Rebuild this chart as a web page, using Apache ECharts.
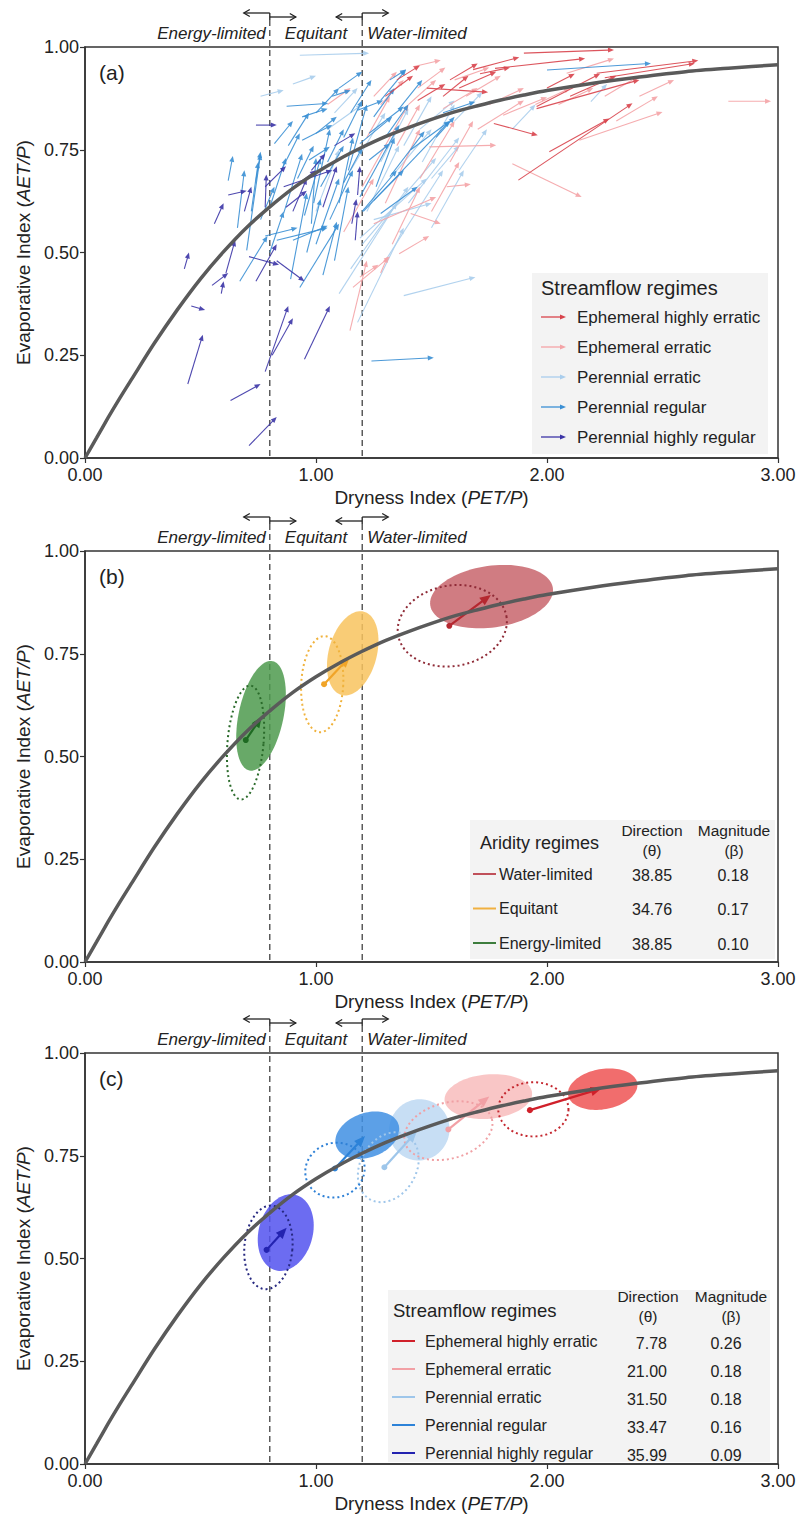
<!DOCTYPE html>
<html><head><meta charset="utf-8">
<script src="https://cdn.jsdelivr.net/npm/echarts@6/dist/echarts.min.js"></script>
<style>html,body{margin:0;padding:0;background:#fff}#c{width:799px;height:1519px}</style>
</head><body><div id="c"></div>
<script>
const FONT = '"Liberation Sans", Arial, sans-serif';

// ---------- data ----------
const xTickLabels = ['0.00', '1.00', '2.00', '3.00'];
const yTickLabels = ['0.00', '0.25', '0.50', '0.75', '1.00'];
const regimeBounds = [0.8, 1.2];
const headerLabels = ['Energy-limited', 'Equitant', 'Water-limited'];
const panelLabels = ['(a)', '(b)', '(c)'];

// Budyko curve (dryness index, evaporative index)
const curveX = [0, 0.05, 0.1, 0.15, 0.2, 0.3, 0.4, 0.5, 0.6, 0.7, 0.8, 0.9, 1.0, 1.1, 1.2, 1.3, 1.4, 1.5, 1.6, 1.7, 1.8, 1.9, 2.0, 2.2, 2.4, 2.6, 2.8, 3.0];
const curveY = [0, 0.049, 0.098, 0.145, 0.190, 0.279, 0.361, 0.436, 0.502, 0.561, 0.611, 0.656, 0.694, 0.727, 0.756, 0.782, 0.804, 0.824, 0.842, 0.857, 0.871, 0.883, 0.894, 0.912, 0.927, 0.940, 0.949, 0.957];

const streamRegimes = ['Ephemeral highly erratic', 'Ephemeral erratic', 'Perennial erratic', 'Perennial regular', 'Perennial highly regular'];
const streamDirection = ['7.78', '21.00', '31.50', '33.47', '35.99'];
const streamMagnitude = ['0.26', '0.18', '0.18', '0.16', '0.09'];
const aridityRegimes = ['Water-limited', 'Equitant', 'Energy-limited'];
const aridityDirection = ['38.85', '34.76', '38.85'];
const aridityMagnitude = ['0.18', '0.17', '0.10'];

// Panel (a): catchment shifts [start PET/P, start AET/P, end PET/P, end AET/P]
const shiftsEHE = [
  [1.90,0.985,2.29,0.993],[1.68,0.945,1.88,0.975],[1.775,0.948,2.165,0.972],[2.215,0.936,2.655,0.967],
  [2.25,0.925,2.64,0.96],[1.955,0.85,2.40,0.92],[1.955,0.855,2.23,0.935],[1.77,0.814,1.96,0.785],
  [2.01,0.745,2.27,0.826],[1.876,0.676,2.37,0.863],[1.48,0.90,1.745,0.89],[1.71,0.935,1.84,0.95],
  [1.35,0.92,1.45,0.955],[1.55,0.88,1.66,0.93],[1.62,0.90,1.78,0.94],[2.00,0.90,2.12,0.935],
  [1.30,0.88,1.42,0.93],[1.58,0.92,1.70,0.96],[1.44,0.87,1.56,0.91],[2.10,0.88,2.30,0.93]
];
const shiftsEE = [
  [2.785,0.868,2.97,0.868],[1.85,0.716,2.15,0.635],[2.14,0.773,2.50,0.842],[1.566,0.66,1.67,0.666],
  [1.36,0.497,1.49,0.54],[1.28,0.45,1.31,0.49],[1.41,0.595,1.54,0.57],[1.49,0.757,1.78,0.761],
  [1.81,0.834,2.0,0.878],[2.085,0.936,2.29,0.972],[1.42,0.952,1.54,0.968],[1.147,0.31,1.22,0.48],
  [1.16,0.415,1.32,0.49],[1.25,0.57,1.52,0.635],[1.19,0.44,1.27,0.47],[1.35,0.76,1.45,0.86],
  [1.40,0.86,1.52,0.92],[1.55,0.85,1.70,0.90],[1.65,0.88,1.80,0.93],[1.95,0.86,2.10,0.90],
  [2.25,0.88,2.40,0.93],[2.30,0.82,2.48,0.88],[1.70,0.80,1.90,0.87],[1.30,0.62,1.45,0.80],
  [1.20,0.66,1.40,0.86],[1.05,0.86,1.15,0.90],[1.45,0.68,1.60,0.82],[1.60,0.92,1.75,0.95],
  [1.22,0.78,1.32,0.88],[1.28,0.86,1.38,0.92],[1.33,0.52,1.45,0.66],[1.50,0.60,1.62,0.72],
  [1.58,0.72,1.68,0.82],[1.25,0.88,1.35,0.94],[1.44,0.90,1.56,0.95],[1.75,0.86,1.90,0.90],
  [2.05,0.86,2.20,0.90],[2.40,0.88,2.55,0.92],[1.12,0.55,1.25,0.68]
];
const shiftsPE = [
  [0.76,0.88,0.86,0.895],[0.93,0.98,1.23,0.985],[1.19,0.535,1.48,0.68],[1.25,0.58,1.50,0.62],
  [1.20,0.52,1.52,0.73],[1.38,0.395,1.69,0.44],[2.19,0.867,2.26,0.91],[1.15,0.46,1.40,0.66],
  [1.10,0.40,1.35,0.62],[1.30,0.48,1.55,0.70],[1.40,0.62,1.62,0.78],[1.15,0.70,1.30,0.84],
  [1.45,0.80,1.60,0.87],[1.60,0.82,1.72,0.89],[1.85,0.80,1.95,0.86],[1.05,0.80,1.20,0.86],
  [0.90,0.91,1.00,0.93],[1.35,0.70,1.50,0.80],[1.18,0.33,1.38,0.56],[1.50,0.68,1.62,0.76],
  [1.00,0.60,1.10,0.75],[1.22,0.60,1.36,0.76],[1.28,0.72,1.40,0.85],[1.38,0.76,1.50,0.88],
  [1.46,0.72,1.60,0.86],[1.08,0.84,1.18,0.90],[1.50,0.56,1.64,0.70],[1.62,0.70,1.74,0.80]
];
const shiftsPR = [
  [0.873,0.856,1.053,0.863],[0.82,0.765,0.90,0.82],[0.62,0.675,0.64,0.735],[0.74,0.675,0.76,0.745],
  [0.70,0.505,0.76,0.74],[0.67,0.43,0.79,0.54],[0.78,0.54,0.92,0.56],[0.90,0.53,1.05,0.565],
  [0.89,0.435,0.96,0.645],[0.93,0.415,1.10,0.57],[1.03,0.445,1.09,0.575],[0.94,0.773,1.07,0.81],
  [0.94,0.83,1.05,0.85],[1.07,0.88,1.15,0.895],[0.80,0.61,0.87,0.73],[0.86,0.595,0.94,0.74],
  [0.98,0.57,1.00,0.73],[1.12,0.67,1.20,0.755],[1.20,0.60,1.35,0.70],[1.19,0.635,1.36,0.81],
  [1.205,0.60,1.58,0.82],[1.32,0.685,1.47,0.795],[1.41,0.75,1.58,0.82],[1.19,0.765,1.33,0.83],
  [1.23,0.79,1.38,0.855],[1.28,0.87,1.39,0.945],[2.0,0.944,2.45,0.96],[1.24,0.236,1.51,0.244],
  [0.97,0.725,1.06,0.757],[1.23,0.725,1.32,0.765],[1.25,0.627,1.38,0.70],[1.28,0.595,1.44,0.66],
  [0.83,0.53,1.05,0.56],[1.18,0.846,1.29,0.87],[1.32,0.92,1.39,0.945],[1.00,0.79,1.09,0.83],
  [1.05,0.72,1.12,0.80],[1.10,0.62,1.16,0.78],[1.14,0.70,1.22,0.86],[0.76,0.58,0.82,0.66],
  [0.92,0.68,0.99,0.76],[1.00,0.52,1.10,0.68],[1.08,0.48,1.14,0.66],[0.95,0.59,1.02,0.73],
  [1.52,0.78,1.60,0.83],[1.55,0.84,1.69,0.867],
  [0.66,0.56,0.69,0.70],[0.72,0.60,0.75,0.72],[0.85,0.70,0.93,0.79],[0.88,0.76,0.97,0.84],
  [1.00,0.84,1.10,0.90],[1.02,0.66,1.12,0.76],[1.12,0.78,1.20,0.87],[1.15,0.84,1.24,0.92],
  [1.25,0.83,1.34,0.90],[1.30,0.78,1.40,0.86],[0.96,0.50,1.02,0.63],[1.06,0.58,1.16,0.70],
  [0.99,0.62,1.06,0.80],[1.26,0.66,1.34,0.78],[0.80,0.50,0.86,0.60],[1.36,0.85,1.46,0.92],
  [1.10,0.90,1.20,0.94]
];
const shiftsPHR = [
  [0.445,0.18,0.51,0.30],[0.46,0.37,0.52,0.36],[0.43,0.46,0.45,0.50],[0.55,0.42,0.62,0.45],
  [0.59,0.40,0.60,0.43],[0.61,0.45,0.65,0.53],[0.56,0.57,0.60,0.62],[0.62,0.64,0.70,0.65],
  [0.69,0.60,0.72,0.66],[0.74,0.81,0.83,0.81],[0.63,0.14,0.76,0.18],[0.71,0.03,0.83,0.10],
  [0.78,0.21,0.88,0.37],[0.81,0.25,0.90,0.34],[0.95,0.24,1.06,0.37],[0.71,0.49,0.84,0.47],
  [0.83,0.48,0.95,0.43],[0.74,0.43,0.83,0.52],[0.78,0.61,0.785,0.69],[0.78,0.66,0.87,0.71],
  [0.87,0.61,0.96,0.65],[1.03,0.61,1.09,0.71],[1.155,0.57,1.175,0.63],[0.86,0.66,1.07,0.70],
  [1.17,0.53,1.18,0.60],[1.18,0.64,1.19,0.71],[0.93,0.67,1.00,0.70],[0.90,0.60,0.96,0.68],
  [1.08,0.76,1.17,0.79],[0.98,0.70,1.04,0.74]
];

// Panel (b): aridity-regime ellipses [centre x, centre y, semi-axis x, semi-axis y, tilt deg]
const aridityStart = [[1.59,0.818,0.238,0.098,10],[1.027,0.676,0.091,0.117,-3],[0.695,0.534,0.078,0.139,-5]];
const aridityEnd   = [[1.76,0.889,0.268,0.075,8],[1.159,0.751,0.104,0.105,-15],[0.762,0.599,0.097,0.136,-12]];
const aridityShift = [[1.577,0.818,1.757,0.893],[1.035,0.676,1.147,0.743],[0.696,0.540,0.765,0.597]];

// Panel (c): streamflow-regime ellipses
const streamStart = [[1.941,0.863,0.152,0.066,0],[1.573,0.811,0.195,0.068,15],[1.313,0.722,0.121,0.090,-30],[1.082,0.715,0.13,0.066,20],[0.794,0.527,0.104,0.102,-5]];
const streamEnd   = [[2.241,0.912,0.152,0.049,10],[1.746,0.894,0.19,0.054,5],[1.447,0.813,0.13,0.075,-30],[1.222,0.800,0.143,0.054,20],[0.869,0.563,0.117,0.095,-15]];
const streamShift = [[1.926,0.861,2.237,0.914],[1.573,0.814,1.75,0.894],[1.296,0.722,1.436,0.809],[1.082,0.719,1.212,0.798],[0.786,0.521,0.873,0.575]];

// ---------- styles ----------
const regimeColors = ['#d8434b', '#f4a3a6', '#a9cdec', '#3a8fd4', '#3b34a6'];
const streamFill = ['#ef5454', '#f8bcbc', '#bdd8f2', '#3f8fe3', '#5252ee'];
const streamDot = ['#c4262e', '#f0a0a4', '#9fc6ea', '#2e80d6', '#262880'];
const streamArrow = ['#d0202a', '#f2a0a5', '#9ec6ea', '#2c82d8', '#2323b0'];
const aridFill = ['#c8656c', '#f8c35e', '#4e9a4e'];
const aridDot = ['#8f2b37', '#f0b23c', '#2a6a2a'];
const aridArrow = ['#b52830', '#f0a428', '#1e6a22'];
const aridLegend = ['#c0505a', '#f0b040', '#3d7d3d'];

const grids = [
  {left: 85, top: 47, width: 693, height: 411},
  {left: 85, top: 551, width: 693, height: 411},
  {left: 85, top: 1053, width: 693, height: 411}
];

// ---------- render helpers ----------
function arrowShapes(p0, p1, color, lw, head, opacity) {
  const dx = p1[0] - p0[0], dy = p1[1] - p0[1];
  const len = Math.hypot(dx, dy) || 1;
  const ux = dx / len, uy = dy / len;
  const h = Math.min(head, len * 0.8);
  const bx = p1[0] - ux * h, by = p1[1] - uy * h;
  const w = h * 0.42;
  return [
    {type: 'line', shape: {x1: p0[0], y1: p0[1], x2: bx + ux * 0.5, y2: by + uy * 0.5}, style: {stroke: color, lineWidth: lw, opacity: opacity}},
    {type: 'polygon', shape: {points: [[p1[0], p1[1]], [bx - uy * w, by + ux * w], [bx + uy * w, by - ux * w]]}, style: {fill: color, opacity: opacity}}
  ];
}
function shiftSeries(data, color, gi) {
  return {
    type: 'custom', xAxisIndex: gi, yAxisIndex: gi, data: data, clip: true, silent: true, z: 3,
    renderItem: function (params, api) {
      const p0 = api.coord([api.value(0), api.value(1)]);
      const p1 = api.coord([api.value(2), api.value(3)]);
      return {type: 'group', children: arrowShapes(p0, p1, color, 1.1, 6, 0.9)};
    }
  };
}
function meanShiftSeries(data, colors, gi) {
  return {
    type: 'custom', xAxisIndex: gi, yAxisIndex: gi, data: data, silent: true, z: 6,
    renderItem: function (params, api) {
      const c = colors[params.dataIndex];
      const p0 = api.coord([api.value(0), api.value(1)]);
      const p1 = api.coord([api.value(2), api.value(3)]);
      const ch = arrowShapes(p0, p1, c, 2.2, 11, 1);
      ch.push({type: 'circle', shape: {cx: p0[0], cy: p0[1], r: 3}, style: {fill: c}});
      return {type: 'group', children: ch};
    }
  };
}
function ellipsePoints(cx, cy, rx, ry, deg) {
  const a = deg * Math.PI / 180, ca = Math.cos(a), sa = Math.sin(a);
  const pts = [];
  for (let i = 0; i < 96; i++) {
    const t = i / 96 * Math.PI * 2;
    const x = rx * Math.cos(t), y = ry * Math.sin(t);
    pts.push([cx + x * ca + y * sa, cy - x * sa + y * ca]);
  }
  return pts;
}
function ellipseSeries(data, colors, gi, dotted, z) {
  return {
    type: 'custom', xAxisIndex: gi, yAxisIndex: gi, data: data, silent: true, z: z,
    renderItem: function (params, api) {
      const c = api.coord([api.value(0), api.value(1)]);
      const s = api.size([api.value(2), api.value(3)]);
      const pts = ellipsePoints(c[0], c[1], s[0], s[1], api.value(4));
      const col = colors[params.dataIndex];
      return {
        type: 'polygon', shape: {points: pts},
        style: dotted ? {fill: 'none', stroke: col, lineWidth: 2, lineDash: [2, 3]} : {fill: col, opacity: 0.85}
      };
    }
  };
}
function txt(text, x, y, align, font) {
  return {type: 'text', x: x, y: y, style: {text: text, font: font, fill: '#222', textAlign: align, align: align, textVerticalAlign: 'middle', verticalAlign: 'middle'}};
}
function openArrow(x0, x1, y) {
  const d = x1 > x0 ? 1 : -1;
  return [
    {type: 'line', shape: {x1: x0, y1: y, x2: x1, y2: y}, style: {stroke: '#222', lineWidth: 1.3}},
    {type: 'polyline', shape: {points: [[x1 - d * 6, y - 3.5], [x1, y], [x1 - d * 6, y + 3.5]]}, style: {stroke: '#222', lineWidth: 1.3, fill: 'none'}}
  ];
}
function headerSeries(gi) {
  return {
    type: 'custom', xAxisIndex: gi, yAxisIndex: gi, data: [[0, 0]], clip: false, silent: true, z: 2,
    renderItem: function (params, api) {
      const top = api.coord([0, 1])[1], bot = api.coord([0, 0])[1], left = api.coord([0, 0])[0];
      const xa = api.coord([regimeBounds[0], 0])[0], xb = api.coord([regimeBounds[1], 0])[0];
      const ch = [];
      [xa, xb].forEach(function (x) {
        ch.push({type: 'line', shape: {x1: x, y1: top - 27, x2: x, y2: bot}, style: {stroke: '#333', lineWidth: 1.2, lineDash: [6, 4]}});
      });
      const f = 'italic 17px ' + FONT, ty = top - 14;
      ch.push(txt(headerLabels[0], xa - 4, ty, 'right', f));
      ch.push(txt(headerLabels[1], (xa + xb) / 2, ty, 'center', f));
      ch.push(txt(headerLabels[2], xb + 5, ty, 'left', f));
      ch.push.apply(ch, openArrow(xa, xa - 26, top - 34));
      ch.push.apply(ch, openArrow(xa, xa + 26, top - 30));
      ch.push({type: 'line', shape: {x1: xa, y1: top - 34, x2: xa, y2: top - 27}, style: {stroke: '#222', lineWidth: 1.3}});
      ch.push.apply(ch, openArrow(xb, xb - 26, top - 30));
      ch.push.apply(ch, openArrow(xb, xb + 26, top - 34));
      ch.push({type: 'line', shape: {x1: xb, y1: top - 34, x2: xb, y2: top - 27}, style: {stroke: '#222', lineWidth: 1.3}});
      ch.push(txt(panelLabels[gi], left + 14, top + 25, 'left', '21px ' + FONT));
      return {type: 'group', children: ch};
    }
  };
}

// ---------- axes ----------
const xAxes = grids.map(function (g, i) {
  return {
    gridIndex: i, type: 'value', min: 0, max: 3, interval: 1,
    axisLine: {show: true, onZero: false, lineStyle: {color: '#333', width: 1.5}},
    axisTick: {show: true, inside: false, length: 5, lineStyle: {color: '#333', width: 1.2}},
    axisLabel: {fontSize: 18, color: '#222', fontFamily: FONT, margin: 8, formatter: function (v) { return xTickLabels[Math.round(v)]; }},
    splitLine: {show: false},
    name: '{n|Dryness Index (}{i|PET/P}{n|)}', nameLocation: 'middle', nameGap: 30,
    nameTextStyle: {rich: {n: {fontSize: 19, fontFamily: FONT, color: '#222'}, i: {fontSize: 19, fontFamily: FONT, fontStyle: 'italic', color: '#222'}}}
  };
});
const yAxes = grids.map(function (g, i) {
  return {
    gridIndex: i, type: 'value', min: 0, max: 1, interval: 0.25,
    axisLine: {show: true, onZero: false, lineStyle: {color: '#333', width: 1.5}},
    axisTick: {show: true, inside: false, length: 5, lineStyle: {color: '#333', width: 1.2}},
    axisLabel: {fontSize: 18, color: '#222', fontFamily: FONT, margin: 6, formatter: function (v) { return yTickLabels[Math.round(v / 0.25)]; }},
    splitLine: {show: false},
    name: '{n|Evaporative Index (}{i|AET/P}{n|)}', nameLocation: 'middle', nameGap: 52,
    nameTextStyle: {rich: {n: {fontSize: 19, fontFamily: FONT, color: '#222'}, i: {fontSize: 19, fontFamily: FONT, fontStyle: 'italic', color: '#222'}}}
  };
});

// ---------- series ----------
const curveData = curveX.map(function (x, i) { return [x, curveY[i]]; });
const series = [];
grids.forEach(function (g, i) {
  series.push(headerSeries(i));
  series.push({type: 'line', xAxisIndex: i, yAxisIndex: i, data: curveData, smooth: 0.3, showSymbol: false, silent: true, z: 8,
    lineStyle: {color: '#5a5a5a', width: 3.5}});
});
// panel a
series.push(shiftSeries(shiftsPE, regimeColors[2], 0));
series.push(shiftSeries(shiftsEE, regimeColors[1], 0));
series.push(shiftSeries(shiftsPR, regimeColors[3], 0));
series.push(shiftSeries(shiftsEHE, regimeColors[0], 0));
series.push(shiftSeries(shiftsPHR, regimeColors[4], 0));
// panel b
series.push(ellipseSeries(aridityEnd, aridFill, 1, false, 4));
series.push(ellipseSeries(aridityStart, aridDot, 1, true, 5));
series.push(meanShiftSeries(aridityShift, aridArrow, 1));
// panel c
series.push(ellipseSeries(streamEnd, streamFill, 2, false, 4));
series.push(ellipseSeries(streamStart, streamDot, 2, true, 5));
series.push(meanShiftSeries(streamShift, streamArrow, 2));

// ---------- legends (graphic) ----------
const graphic = [];
function gText(text, x, y, size, align, italic) {
  graphic.push({type: 'text', x: x, y: y, z: 100, style: {text: text, font: (italic ? 'italic ' : '') + size + 'px ' + FONT, fill: '#222', textAlign: align || 'left', align: align || 'left', textVerticalAlign: 'middle', verticalAlign: 'middle'}});
}
// legend a
graphic.push({type: 'rect', shape: {x: 532, y: 273, width: 236, height: 181}, style: {fill: '#f3f3f3'}, z: 90});
gText('Streamflow regimes', 541, 288, 20);
streamRegimes.forEach(function (name, k) {
  const y = 317 + k * 30;
  const a = arrowShapes([541, y], [566, y], regimeColors[k], 1.3, 6, 1);
  a.forEach(function (s) { s.z = 100; graphic.push(s); });
  gText(name, 577, y, 17);
});
// legend b
graphic.push({type: 'rect', shape: {x: 470, y: 820, width: 305, height: 139}, style: {fill: '#f3f3f3'}, z: 90});
gText('Aridity regimes', 480, 843, 18);
gText('Direction', 652, 830, 15.5, 'center');
gText('(\u03b8)', 652, 850, 15.5, 'center');
gText('Magnitude', 734, 830, 15.5, 'center');
gText('(\u03b2)', 734, 850, 15.5, 'center');
aridityRegimes.forEach(function (name, k) {
  const y = 874 + k * 34.5;
  graphic.push({type: 'line', z: 100, shape: {x1: 473, y1: y, x2: 496, y2: y}, style: {stroke: aridLegend[k], lineWidth: 2}});
  gText(name, 499, y, 16);
  gText(aridityDirection[k], 652, y + 1, 16, 'center');
  gText(aridityMagnitude[k], 733, y + 1, 16, 'center');
});
// legend c
graphic.push({type: 'rect', shape: {x: 388, y: 1290, width: 382, height: 172}, style: {fill: '#f3f3f3'}, z: 90});
gText('Streamflow regimes', 393, 1310, 18.5);
gText('Direction', 648, 1296, 15.5, 'center');
gText('(\u03b8)', 648, 1316, 15.5, 'center');
gText('Magnitude', 731, 1296, 15.5, 'center');
gText('(\u03b2)', 731, 1316, 15.5, 'center');
streamRegimes.forEach(function (name, k) {
  const y = 1341 + k * 28;
  graphic.push({type: 'line', z: 100, shape: {x1: 392, y1: y, x2: 415, y2: y}, style: {stroke: streamArrow[k], lineWidth: 2}});
  gText(name, 425, y, 16);
  gText(streamDirection[k], 667, y + 2, 16, 'right');
  gText(streamMagnitude[k], 726, y + 2, 16, 'center');
});

const chart = echarts.init(document.getElementById('c'), null, {renderer: 'svg', width: 799, height: 1519});
chart.setOption({
  animation: false,
  backgroundColor: '#ffffff',
  grid: grids.map(function (g) { return Object.assign({show: true, borderColor: '#333', borderWidth: 1.5, backgroundColor: 'transparent'}, g); }),
  xAxis: xAxes,
  yAxis: yAxes,
  series: series,
  graphic: graphic
});
</script></body></html>
